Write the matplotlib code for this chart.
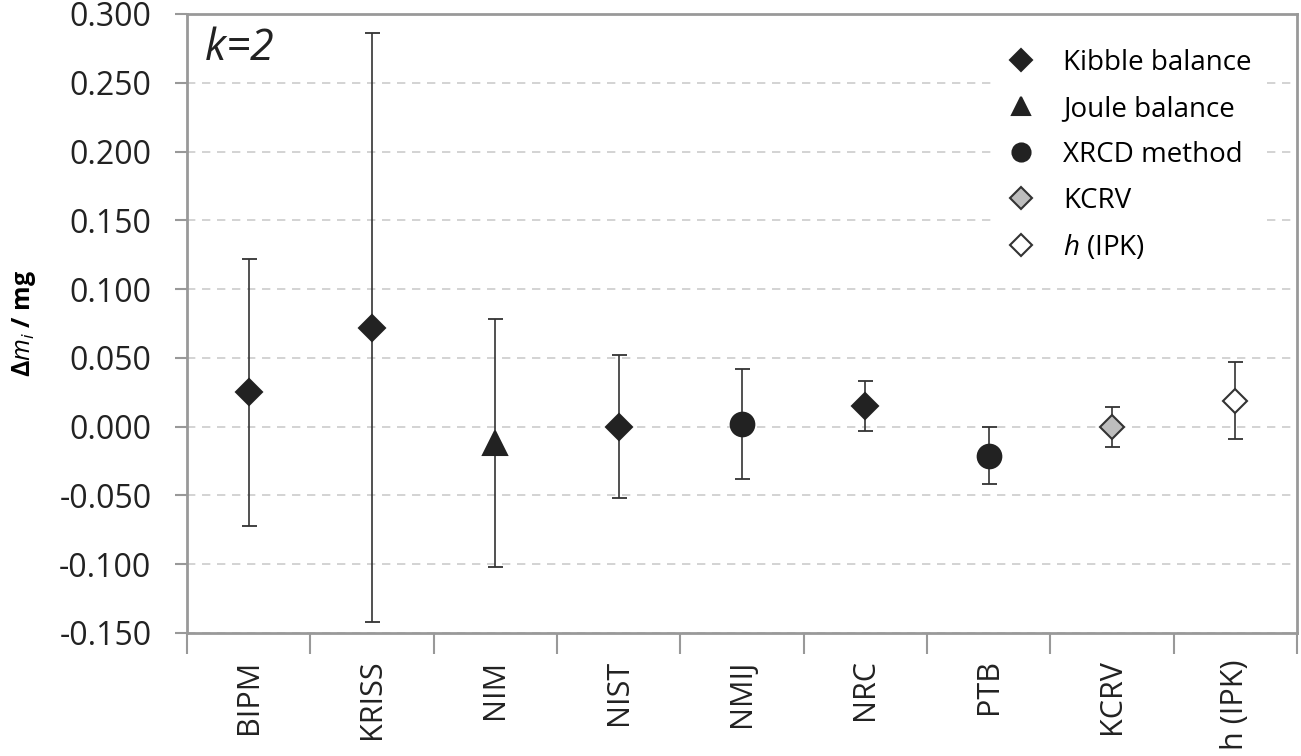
import numpy as np
import matplotlib.pyplot as plt
from matplotlib.lines import Line2D

labs = ["BIPM", "KRISS", "NIM", "NIST", "NMIJ", "NRC", "PTB", "KCRV", "h (IPK)"]
vals = [0.025, 0.072, -0.012, 0.000, 0.002, 0.015, -0.021, 0.000, 0.019]
errs = [0.097, 0.214, 0.090, 0.052, 0.040, 0.018, 0.021, 0.0145, 0.028]
kind = ["kibble", "kibble", "joule", "kibble", "xrcd", "kibble", "xrcd", "kcrv", "ipk"]

sty = {
    "kibble": dict(marker="D", mfc="#222222", mec="#222222", ms=13),
    "joule": dict(marker="^", mfc="#222222", mec="#222222", ms=17),
    "xrcd": dict(marker="o", mfc="#222222", mec="#222222", ms=17),
    "kcrv": dict(marker="D", mfc="#bdbdbd", mec="#333333", ms=12),
    "ipk": dict(marker="D", mfc="white", mec="#333333", ms=12),
}
names = {"kibble": "Kibble balance", "joule": "Joule balance", "xrcd": "XRCD method",
         "kcrv": "KCRV", "ipk": "$h$ (IPK)"}

plt.rcParams['font.family'] = ['Open Sans', 'DejaVu Sans']
plt.rcParams['mathtext.fontset'] = 'custom'
plt.rcParams['mathtext.it'] = 'Open Sans:italic'
plt.rcParams['mathtext.rm'] = 'Open Sans'
plt.rcParams['mathtext.bf'] = 'Open Sans:bold'
fig = plt.figure(figsize=(13.01, 7.56), dpi=100)
ax = fig.add_axes([0.1437, 0.1627, 0.8533, 0.8188])

x = np.arange(len(labs))
for i in range(len(labs)):
    s = sty[kind[i]]
    ax.errorbar(x[i], vals[i], yerr=errs[i], fmt="none", ecolor="#333333",
                elinewidth=1.2, capsize=5.4, capthick=1.3, zorder=3)
    ax.plot(x[i], vals[i], linestyle="none", markeredgewidth=1.5, zorder=4, **s)

ax.set_xlim(-0.5, len(labs) - 0.5)
ax.set_ylim(-0.150, 0.300)
ax.set_yticks(np.arange(-0.150, 0.301, 0.050))
ax.set_yticklabels(["%.3f" % v for v in np.arange(-0.150, 0.301, 0.050)], fontsize=23, color="#222222")
ax.set_xticks(x)
ax.set_xticklabels(labs, rotation=90, fontsize=22, color="#222222")
ax.set_xticks(np.arange(-0.5, len(labs), 1.0), minor=True)
ax.tick_params(axis="x", which="major", length=0, pad=19)
ax.tick_params(axis="x", which="minor", length=15, width=1.5, color="#999999")
ax.tick_params(axis="y", length=8.6, width=1.5, color="#999999", pad=17)

ax.grid(axis="y", linestyle=(0, (5, 4)), color="#cccccc", linewidth=1.2)
for sp in ax.spines.values():
    sp.set_color("#999999")
    sp.set_linewidth(2)

ax.set_ylabel(r"$\mathbf{\Delta}\boldsymbol{m_i}$ / mg", fontsize=18, fontweight="bold", labelpad=15)
ax.text(0.015, 0.98, "$k$=2", transform=ax.transAxes, fontsize=31, style="italic",
        va="top", ha="left", color="#222222")

hnd = []
for k in ["kibble", "joule", "xrcd", "kcrv", "ipk"]:
    s = dict(sty[k])
    s["ms"] = 11 if s["marker"] == "D" else 13
    hnd.append(Line2D([], [], linestyle="none", markeredgewidth=1.5, label=names[k], **s))
leg = ax.legend(handles=hnd, loc="upper left", bbox_to_anchor=(0.729, 0.962), frameon=True,
                fontsize=20, labelspacing=0.65, handlelength=1.0, handletextpad=1.0,
                borderpad=0.4, borderaxespad=0)
leg.get_frame().set_edgecolor("white")
leg.get_frame().set_alpha(1)

fig.savefig("out.png", dpi=100)
